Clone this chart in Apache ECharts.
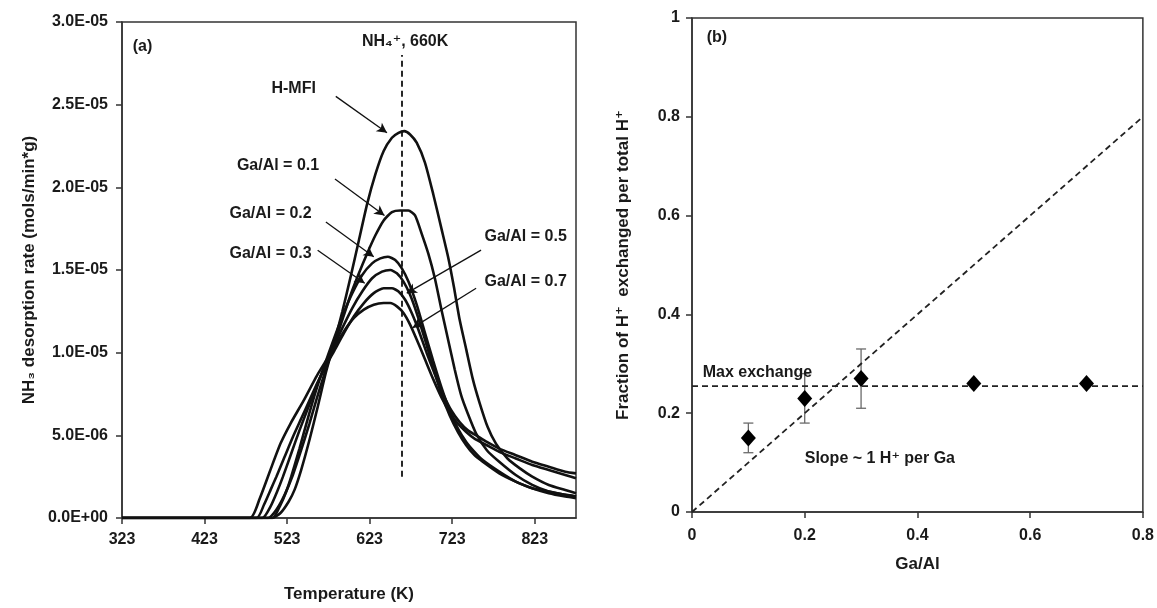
<!DOCTYPE html>
<html>
<head>
<meta charset="utf-8">
<script src="https://cdn.jsdelivr.net/npm/echarts@6/dist/echarts.min.js"></script>
<style>
  html, body { margin: 0; background: #fff; }
  #chart { width: 1157px; height: 608px; }
</style>
</head>
<body>
<div id="chart"></div>
<script>
// panel (a): NH3 desorption rate, values in units of 1E-05 mols/min*g, [T (K), rate]
const hmfi = [[323,0],[505,0],[515,0.03],[525,0.1],[532,0.17],[540,0.29],[550,0.47],[560,0.67],[570,0.88],[580,1.06],[590,1.25],[600,1.46],[610,1.68],[620,1.9],[630,2.08],[640,2.22],[650,2.3],[658,2.33],[665,2.34],[672,2.32],[680,2.27],[690,2.15],[700,1.96],[710,1.75],[718,1.58],[725,1.4],[732,1.2],[740,1.02],[748,0.84],[756,0.7],[766,0.55],[776,0.45],[790,0.36],[805,0.3],[820,0.25],[840,0.2],[860,0.17],[873,0.15]];
const ga01 = [[323,0],[500,0],[510,0.05],[520,0.14],[530,0.26],[540,0.41],[550,0.57],[560,0.74],[570,0.9],[580,1.05],[590,1.2],[600,1.35],[610,1.48],[620,1.6],[630,1.71],[640,1.8],[650,1.85],[660,1.86],[670,1.86],[678,1.83],[686,1.72],[694,1.6],[702,1.45],[710,1.26],[718,1.08],[726,0.9],[734,0.74],[742,0.63],[752,0.51],[765,0.41],[780,0.34],[800,0.26],[820,0.2],[840,0.16],[860,0.14],[873,0.13]];
const ga02 = [[323,0],[505,0],[515,0.08],[522,0.16],[528,0.25],[538,0.42],[548,0.6],[558,0.77],[568,0.92],[578,1.06],[590,1.22],[602,1.36],[614,1.47],[626,1.54],[636,1.57],[645,1.58],[654,1.56],[662,1.51],[670,1.43],[680,1.29],[690,1.12],[700,0.95],[710,0.79],[720,0.65],[730,0.54],[740,0.46],[750,0.4],[760,0.35],[780,0.28],[800,0.22],[820,0.18],[840,0.15],[860,0.13],[873,0.12]];
const ga03 = [[323,0],[493,0],[503,0.07],[511,0.16],[518,0.25],[528,0.39],[538,0.53],[548,0.66],[558,0.79],[568,0.91],[578,1.02],[590,1.15],[602,1.27],[614,1.37],[626,1.45],[638,1.49],[648,1.5],[656,1.48],[664,1.43],[672,1.35],[680,1.24],[690,1.08],[700,0.91],[710,0.75],[720,0.62],[730,0.52],[740,0.44],[750,0.38],[760,0.34],[780,0.27],[800,0.22],[820,0.18],[840,0.16],[860,0.14],[873,0.13]];
const ga05 = [[323,0],[486,0],[495,0.08],[503,0.17],[510,0.25],[520,0.37],[530,0.49],[540,0.6],[550,0.71],[560,0.82],[570,0.92],[580,1.01],[592,1.12],[604,1.22],[616,1.3],[628,1.36],[640,1.39],[650,1.39],[658,1.37],[666,1.32],[674,1.24],[682,1.14],[692,1.0],[702,0.87],[712,0.75],[722,0.65],[732,0.58],[742,0.53],[752,0.5],[765,0.46],[780,0.42],[800,0.38],[820,0.34],[840,0.31],[860,0.28],[873,0.27]];
const ga07 = [[323,0],[478,0],[490,0.12],[502,0.28],[515,0.45],[527,0.57],[543,0.71],[559,0.86],[570,0.95],[580,1.03],[592,1.13],[604,1.21],[616,1.26],[628,1.29],[640,1.3],[648,1.3],[656,1.28],[664,1.24],[672,1.17],[680,1.08],[690,0.96],[700,0.84],[710,0.73],[720,0.64],[730,0.57],[740,0.52],[750,0.48],[765,0.44],[780,0.4],[800,0.36],[820,0.32],[840,0.29],[860,0.26],[873,0.24]];
const nh4PeakT = 662;

// panel (b): fraction of H+ exchanged vs Ga/Al
const gaAl = [0.1, 0.2, 0.3, 0.5, 0.7];
const fraction = [0.15, 0.23, 0.27, 0.26, 0.26];
const errLow = [0.12, 0.18, 0.21, null, null];
const errHigh = [0.18, 0.28, 0.33, null, null];
const maxExchange = 0.255;
const slopeX = [0, 0.8];
const slopeY = [0, 0.8];

const FONT = '"Liberation Sans", Arial, "DejaVu Sans", sans-serif';
const INK = '#1a1a1a';
const txt = { color: INK, fontFamily: FONT, fontWeight: 'bold', fontSize: 16 };

function note(text, coord, align) {
  return {
    coord: coord, symbol: 'circle', symbolSize: 1, itemStyle: { color: 'transparent' },
    label: Object.assign({ show: true, position: 'inside', formatter: text, align: align || 'center' }, txt)
  };
}
function arrow(from, to) {
  return [{ coord: from, symbol: 'none' }, { coord: to, symbol: 'arrow', symbolSize: [8, 10] }];
}

const curveStyle = { color: '#111', width: 2.6 };
function curve(name, data, extra) {
  return Object.assign({
    name: name, type: 'line', xAxisIndex: 0, yAxisIndex: 0,
    data: data, showSymbol: false, smooth: 0.2,
    lineStyle: curveStyle, itemStyle: { color: '#111' }, silent: true
  }, extra || {});
}

const chart = echarts.init(document.getElementById('chart'), null, { renderer: 'canvas' });

const axisCommon = {
  axisLine: { show: true, lineStyle: { color: '#333', width: 1.5 } },
  axisTick: { show: true, inside: false, length: 6, lineStyle: { color: '#333', width: 1.5 } },
  splitLine: { show: false },
  nameLocation: 'middle',
  nameTextStyle: Object.assign({}, txt, { fontSize: 17 })
};

const option = {
  animation: false,
  backgroundColor: '#fff',
  grid: [
    { left: 122, top: 22, width: 454, height: 499, show: true, borderColor: '#333', borderWidth: 1.5 },
    { left: 692, top: 18, width: 453, height: 494, show: true, borderColor: '#333', borderWidth: 1.5 }
  ],
  xAxis: [
    Object.assign({}, axisCommon, {
      type: 'value', gridIndex: 0, min: 323, max: 873, interval: 100,
      name: 'Temperature (K)', nameGap: 68,
      axisLabel: Object.assign({ margin: 14, showMaxLabel: false }, txt)
    }),
    Object.assign({}, axisCommon, {
      type: 'value', gridIndex: 1, min: 0, max: 0.8, interval: 0.2,
      name: 'Ga/Al', nameGap: 44,
      axisLabel: Object.assign({ margin: 16 }, txt)
    })
  ],
  yAxis: [
    Object.assign({}, axisCommon, {
      type: 'value', gridIndex: 0, min: 0, max: 3, interval: 0.5,
      name: 'NH₃ desorption rate (mols/min*g)', nameGap: 84,
      axisLabel: Object.assign({
        margin: 14,
        formatter: function (v) {
          if (v === 0) return '0.0E+00';
          return v >= 1 ? v.toFixed(1) + 'E-05' : (v * 10).toFixed(1) + 'E-06';
        }
      }, txt)
    }),
    Object.assign({}, axisCommon, {
      type: 'value', gridIndex: 1, min: 0, max: 1, interval: 0.2,
      name: 'Fraction of H⁺  exchanged per total H⁺', nameGap: 60,
      axisLabel: Object.assign({ margin: 12 }, txt)
    })
  ],
  series: [
    curve('H-MFI', hmfi, {
      markPoint: {
        silent: true,
        data: [
          note('H-MFI', [531, 2.6]),
          note('Ga/Al = 0.1', [512, 2.13]),
          note('Ga/Al = 0.2', [503, 1.84]),
          note('Ga/Al = 0.3', [503, 1.6]),
          note('Ga/Al = 0.5', [812, 1.7]),
          note('Ga/Al = 0.7', [812, 1.43]),
          note('NH₄⁺, 660K', [666, 2.88]),
          note('(a)', [336, 2.85], 'left')
        ]
      },
      markLine: {
        silent: true, symbol: ['none', 'arrow'], symbolSize: 10,
        label: { show: false },
        lineStyle: { type: 'solid', color: '#111', width: 1.3 },
        itemStyle: { color: '#111' },
        data: [
          arrow([582, 2.55], [644, 2.33]),
          arrow([581, 2.05], [641, 1.83]),
          arrow([570, 1.79], [628, 1.58]),
          arrow([560, 1.62], [617, 1.42]),
          arrow([758, 1.62], [668, 1.36]),
          arrow([752, 1.39], [675, 1.15])
        ]
      }
    }),
    curve('Ga/Al = 0.1', ga01, {
      markLine: {
        silent: true, symbol: ['none', 'none'], label: { show: false },
        lineStyle: { type: [6, 4], color: '#111', width: 1.8 },
        data: [[{ coord: [nh4PeakT, 0.25] }, { coord: [nh4PeakT, 2.8] }]]
      }
    }),
    curve('Ga/Al = 0.2', ga02),
    curve('Ga/Al = 0.3', ga03),
    curve('Ga/Al = 0.5', ga05),
    curve('Ga/Al = 0.7', ga07),
    {
      name: 'Slope', type: 'line', xAxisIndex: 1, yAxisIndex: 1, silent: true,
      data: slopeX.map(function (x, i) { return [x, slopeY[i]]; }),
      showSymbol: false, lineStyle: { type: [6, 4], color: '#222', width: 1.8 },
      markPoint: {
        silent: true,
        data: [
          note('Max exchange', [0.019, 0.283], 'left'),
          note('Slope ~ 1 H⁺ per Ga', [0.2, 0.109], 'left'),
          note('(b)', [0.026, 0.96], 'left')
        ]
      }
    },
    {
      name: 'Max exchange', type: 'line', xAxisIndex: 1, yAxisIndex: 1, silent: true,
      data: [[0, maxExchange], [0.8, maxExchange]],
      showSymbol: false, lineStyle: { type: [6, 4], color: '#222', width: 1.8 }
    },
    {
      name: 'Error', type: 'custom', xAxisIndex: 1, yAxisIndex: 1, silent: true, z: 3,
      data: gaAl.map(function (x, i) { return [x, errLow[i], errHigh[i]]; })
        .filter(function (d) { return d[1] !== null; }),
      renderItem: function (params, api) {
        const lo = api.coord([api.value(0), api.value(1)]);
        const hi = api.coord([api.value(0), api.value(2)]);
        const cap = 5;
        const style = { stroke: '#6a6a6a', lineWidth: 1.3 };
        return {
          type: 'group',
          children: [
            { type: 'line', shape: { x1: lo[0], y1: lo[1], x2: hi[0], y2: hi[1] }, style: style },
            { type: 'line', shape: { x1: lo[0] - cap, y1: lo[1], x2: lo[0] + cap, y2: lo[1] }, style: style },
            { type: 'line', shape: { x1: hi[0] - cap, y1: hi[1], x2: hi[0] + cap, y2: hi[1] }, style: style }
          ]
        };
      }
    },
    {
      name: 'Fraction', type: 'scatter', xAxisIndex: 1, yAxisIndex: 1, silent: true, z: 5,
      data: gaAl.map(function (x, i) { return [x, fraction[i]]; }),
      symbol: 'diamond', symbolSize: [15, 17],
      itemStyle: { color: '#000', opacity: 1 }
    }
  ]
};

chart.setOption(option);
</script>
</body>
</html>
